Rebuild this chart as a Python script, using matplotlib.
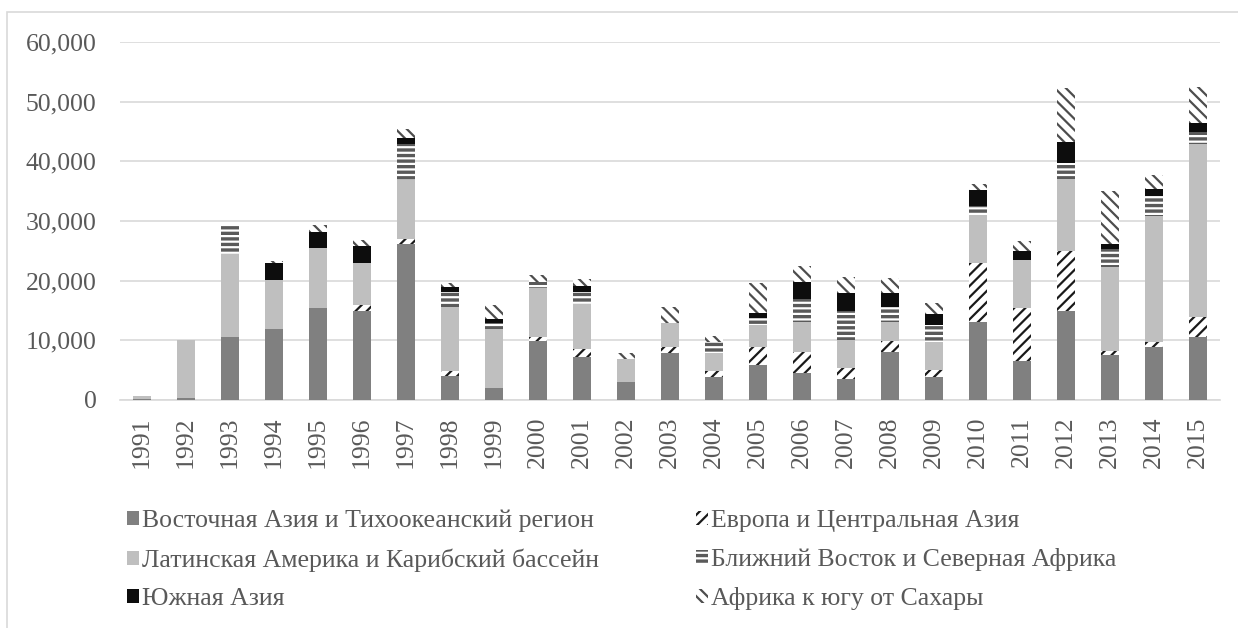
import numpy as np
import matplotlib
matplotlib.use("Agg")
import matplotlib.pyplot as plt
from matplotlib.patches import Rectangle, Patch
from matplotlib.ticker import FuncFormatter

years = [str(y) for y in range(1991, 2016)]

labels = ["Восточная Азия и Тихоокеанский регион",
          "Европа и Центральная Азия",
          "Латинская Америка и Карибский бассейн",
          "Ближний Восток и Северная Африка",
          "Южная Азия",
          "Африка к югу от Сахары"]

east_asia = [150, 400, 10500, 11900, 15350, 14960, 26100, 4070, 1950, 9930,
             7140, 2950, 7870, 3900, 5910, 4460, 3520, 7970, 3900, 13000,
             6470, 14960, 7540, 8930, 10490]
europe = [0, 0, 0, 0, 0, 950, 800, 840, 0, 670,
          1400, 0, 940, 890, 3020, 3510, 1840, 1960, 1120, 9880,
          8940, 10050, 720, 720, 3460]
latin = [500, 9600, 14050, 8200, 10110, 7040, 10000, 10600, 9940, 8160,
         7540, 3920, 4090, 3020, 3630, 5030, 4690, 3070, 4630, 8110,
         8040, 12010, 13950, 21220, 29030]
mideast = [0, 0, 4900, 0, 0, 0, 5980, 2510, 1010, 940,
           1940, 0, 0, 1840, 1110, 3920, 4910, 2510, 2960, 1560,
           0, 2780, 3080, 3350, 1960]
south_asia = [0, 0, 0, 2900, 2780, 2850, 1110, 840, 670, 0,
              1010, 0, 0, 0, 840, 2900, 2900, 2350, 1790, 2680,
              1440, 3470, 840, 1120, 1560]
africa = [0, 0, 0, 330, 1060, 1050, 1400, 740, 2390, 1240,
          1240, 1000, 2730, 1120, 5020, 2680, 2680, 2510, 1780, 950,
          1790, 8990, 8930, 2350, 5980]

series = [east_asia, europe, latin, mideast, south_asia, africa]
# facecolor, hatch, hatch colour
styles = [("#808080", None, "#808080"),
          ("white", "///", "#1a1a1a"),
          ("#bfbfbf", None, "#bfbfbf"),
          ("#5a5a5a", "---", "white"),
          ("#0d0d0d", None, "#0d0d0d"),
          ("white", "\\\\\\", "#4d4d4d")]

plt.rcParams["font.family"] = ["Liberation Serif", "DejaVu Serif"]
plt.rcParams["hatch.linewidth"] = 1.6
txt = "#595959"
fs = 18.5

fig = plt.figure(figsize=(12.38, 6.28), dpi=100)
fig.patches.append(Rectangle((7 / 1238, -0.1), 1.2, 1 - 12 / 628 + 0.1,
                             transform=fig.transFigure, fill=False,
                             edgecolor="#d9d9d9", linewidth=1.2))

ax = fig.add_axes([120 / 1238, 1 - 400 / 628, 1100 / 1238, 358 / 628])
x = np.arange(len(years))
bottom = np.zeros(len(years))
handles = []
for vals, (fc, hatch, hc), lab in zip(series, styles, labels):
    vals = np.array(vals, dtype=float)
    ax.bar(x, vals, width=0.41, bottom=bottom, color=fc, hatch=hatch,
           edgecolor=hc, linewidth=0, zorder=3)
    bottom += vals
    handles.append(Patch(facecolor=fc, hatch=hatch, edgecolor=hc,
                         linewidth=0, label=lab))

ax.set_xlim(-0.5, len(years) - 0.5)
ax.set_ylim(0, 60000)
ax.set_yticks(range(0, 60001, 10000))
ax.yaxis.set_major_formatter(FuncFormatter(lambda v, p: f"{int(v):,}"))
ax.set_xticks(x)
ax.set_xticklabels(years, rotation=90)
ax.tick_params(axis="y", length=0, pad=17, labelsize=fs, labelcolor=txt)
ax.tick_params(axis="x", length=0, pad=12, labelsize=fs, labelcolor=txt)
ax.grid(axis="y", color="#d9d9d9", linewidth=1.2, zorder=0)
for s in ["top", "right", "left"]:
    ax.spines[s].set_visible(False)
ax.spines["bottom"].set_color("#d9d9d9")
ax.spines["bottom"].set_linewidth(1.2)

# legend in two columns, placed by hand
order_left = [0, 2, 4]
order_right = [1, 3, 5]
for idx, xpos in [(order_left, 127 / 1238), (order_right, 696 / 1238)]:
    leg = fig.legend([handles[i] for i in idx], [labels[i] for i in idx],
                     loc="upper left", bbox_to_anchor=(xpos, 1 - 510 / 628),
                     frameon=False, fontsize=fs, handlelength=0.45,
                     handleheight=0.45, handletextpad=0.15, labelspacing=0.62,
                     borderpad=0, borderaxespad=0)
    for t in leg.get_texts():
        t.set_color(txt)

fig.savefig("out.png", dpi=100)
